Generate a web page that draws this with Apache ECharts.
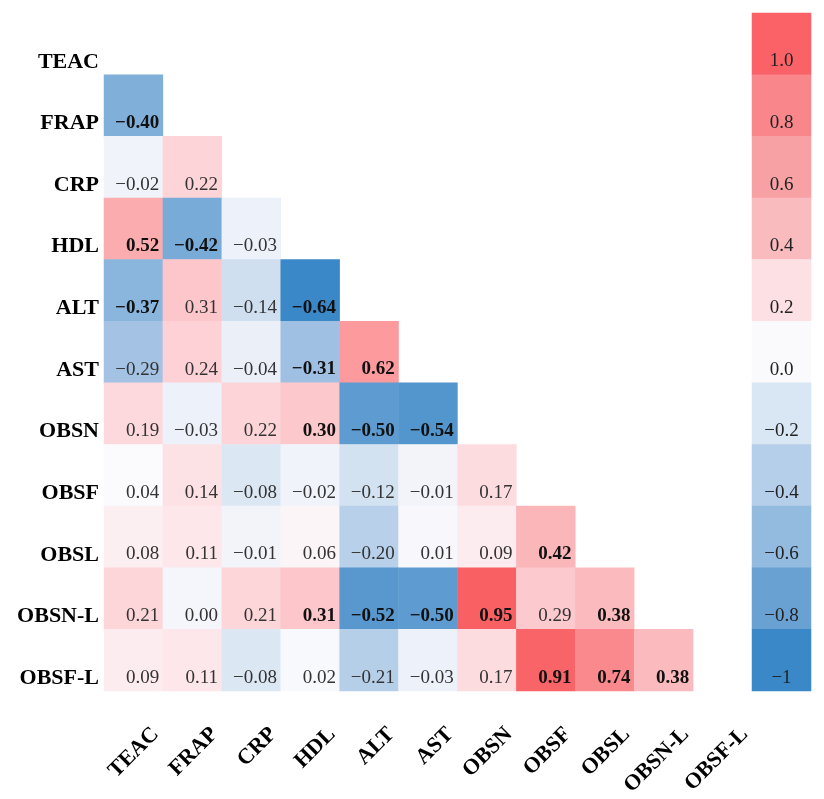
<!DOCTYPE html>
<html>
<head>
<meta charset="utf-8">
<script src="https://cdn.jsdelivr.net/npm/echarts@6/dist/echarts.min.js"></script>
<style>
  html, body { margin: 0; background: #fff; }
  #chart { width: 824px; height: 799px; }
</style>
</head>
<body>
<div id="chart"></div>
<script>
// variables, top to bottom / left to right
const names = ["TEAC", "FRAP", "CRP", "HDL", "ALT", "AST", "OBSN", "OBSF", "OBSL", "OBSN-L", "OBSF-L"];

// lower triangle of the correlation matrix (row i holds columns 0..i-1)
const corr = [
  [],
  [-0.40],
  [-0.02, 0.22],
  [0.52, -0.42, -0.03],
  [-0.37, 0.31, -0.14, -0.64],
  [-0.29, 0.24, -0.04, -0.31, 0.62],
  [0.19, -0.03, 0.22, 0.30, -0.50, -0.54],
  [0.04, 0.14, -0.08, -0.02, -0.12, -0.01, 0.17],
  [0.08, 0.11, -0.01, 0.06, -0.20, 0.01, 0.09, 0.42],
  [0.21, 0.00, 0.21, 0.31, -0.52, -0.50, 0.95, 0.29, 0.38],
  [0.09, 0.11, -0.08, 0.02, -0.21, -0.03, 0.17, 0.91, 0.74, 0.38]
];

// 1 = significant (printed bold)
const sig = [
  [],
  [1],
  [0, 0],
  [1, 1, 0],
  [1, 0, 0, 1],
  [0, 0, 0, 1, 1],
  [0, 0, 0, 1, 1, 1],
  [0, 0, 0, 0, 0, 0, 0],
  [0, 0, 0, 0, 0, 0, 0, 1],
  [0, 0, 0, 1, 1, 1, 1, 0, 1],
  [0, 0, 0, 0, 0, 0, 0, 1, 1, 1]
];

// colour bar
const barTicks = [1.0, 0.8, 0.6, 0.4, 0.2, 0.0, -0.2, -0.4, -0.6, -0.8, -1.0];
const barLabels = ["1.0", "0.8", "0.6", "0.4", "0.2", "0.0", "\u22120.2", "\u22120.4", "\u22120.6", "\u22120.8", "\u22121"];

// colour scales
const barColors = ["#fa6268", "#f8868b", "#f8a1a5", "#fabbbf", "#fde0e4", "#fafafd",
  "#d9e6f4", "#b5cee9", "#93badf", "#6aa1d3", "#3b88c8"];
const cellStops = [
  [-0.64, "#3a88c8"], [-0.5, "#5d9bd0"], [-0.4, "#80afda"], [-0.3, "#a2c2e3"],
  [-0.2, "#b8d0e9"], [-0.14, "#cfdfef"], [-0.08, "#dce7f4"], [-0.03, "#edf1f9"],
  [0, "#f5f6fb"], [0.04, "#fbfbfe"], [0.1, "#fde9ec"], [0.2, "#fdd7db"],
  [0.3, "#fcc8cc"], [0.4, "#fbb8bb"], [0.52, "#fbacaf"], [0.62, "#fc9a9e"],
  [0.74, "#fa898d"], [0.9, "#f86569"], [1, "#f75a5f"]
];

const FONT = "'Liberation Serif', 'Times New Roman', serif";

const hexToRgb = (h) => [1, 3, 5].map((i) => parseInt(h.slice(i, i + 2), 16));

const cellColor = (v) => {
  if (v <= cellStops[0][0]) return cellStops[0][1];
  for (let i = 1; i < cellStops.length; i++) {
    const [v1, c1] = cellStops[i];
    if (v <= v1) {
      const [v0, c0] = cellStops[i - 1];
      const t = (v - v0) / (v1 - v0);
      const a = hexToRgb(c0), b = hexToRgb(c1);
      const rgb = a.map((x, k) => Math.round(x + (b[k] - x) * t));
      return `rgb(${rgb.join(",")})`;
    }
  }
  return cellStops[cellStops.length - 1][1];
};

const fmt = (v) => v.toFixed(2).replace("-", "\u2212");

const cells = [];
corr.forEach((row, i) => {
  row.forEach((v, j) => {
    cells.push({
      value: [j, i, v],
      itemStyle: { color: cellColor(v) },
      label: {
        fontWeight: sig[i][j] ? "bold" : "normal",
        color: sig[i][j] ? "#111" : "#333"
      }
    });
  });
});

const barData = barTicks.map((v, i) => ({
  value: [0, i, v],
  itemStyle: { color: barColors[i] }
}));

const gridTop = 13;
const gridH = 678;
// the tick labels sit a little right of / below the cell centres
const labelDx = 22;
const labelDy = 18;

const hiddenCat = {
  type: "category",
  axisLine: { show: false }, axisTick: { show: false },
  axisLabel: { show: false }, splitLine: { show: false }
};

const chart = echarts.init(document.getElementById("chart"));
chart.setOption({
  animation: false,
  backgroundColor: "#fff",
  grid: [
    { left: 104, top: gridTop, width: 648, height: gridH },
    { left: 752, top: gridTop, width: 59, height: gridH },
    { left: 104 + labelDx, top: gridTop + labelDy, width: 648, height: gridH }
  ],
  xAxis: [
    { ...hiddenCat, gridIndex: 0, data: names },
    { ...hiddenCat, gridIndex: 1, data: [""] },
    {
      type: "category", gridIndex: 2, data: names,
      axisLine: { show: false }, axisTick: { show: false },
      axisLabel: {
        rotate: 45, margin: 22, interval: 0,
        fontFamily: FONT, fontWeight: "bold", fontSize: 22, color: "#000"
      }
    }
  ],
  yAxis: [
    { ...hiddenCat, gridIndex: 0, data: names, inverse: true },
    { ...hiddenCat, gridIndex: 1, data: barLabels, inverse: true },
    {
      type: "category", gridIndex: 2, data: names, inverse: true,
      axisLine: { show: false }, axisTick: { show: false },
      axisLabel: {
        margin: 5 + labelDx, interval: 0,
        fontFamily: FONT, fontWeight: "bold", fontSize: 22, color: "#000"
      }
    }
  ],
  series: [
    {
      type: "heatmap",
      xAxisIndex: 0, yAxisIndex: 0,
      data: cells,
      label: {
        show: true,
        position: "insideBottomRight",
        distance: 4,
        fontFamily: FONT,
        fontSize: 19,
        formatter: (p) => fmt(p.value[2])
      },
      emphasis: { disabled: true }
    },
    {
      type: "heatmap",
      xAxisIndex: 1, yAxisIndex: 1,
      data: barData,
      label: {
        show: true,
        position: "insideBottom",
        distance: 4,
        fontFamily: FONT,
        fontSize: 19,
        color: "#222",
        formatter: (p) => barLabels[p.dataIndex]
      },
      emphasis: { disabled: true }
    }
  ]
});
</script>
</body>
</html>
